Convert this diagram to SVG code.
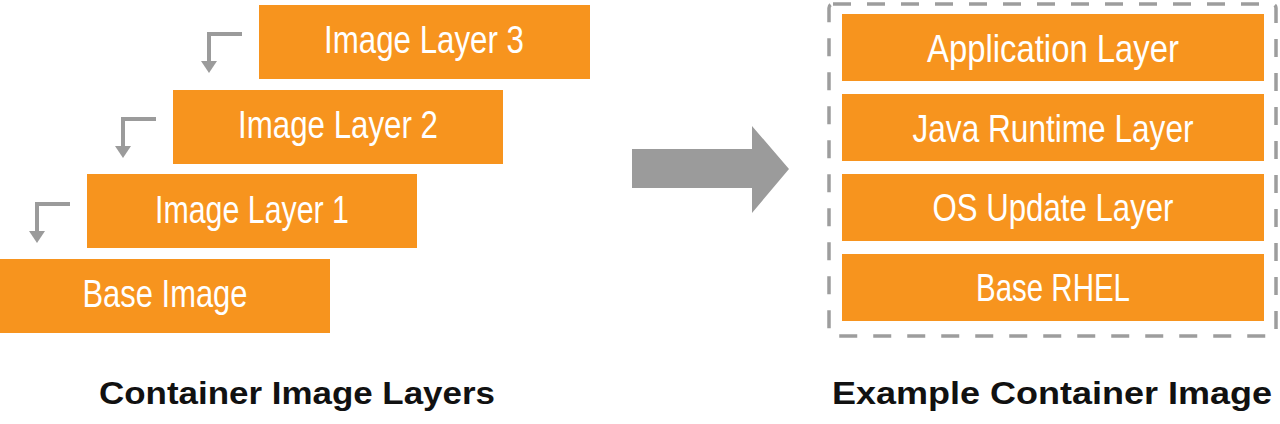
<svg xmlns="http://www.w3.org/2000/svg" width="1280" height="424" viewBox="0 0 1280 424">
<style>
.box{fill:#F7941E;}
.lbl{fill:#FFFFFF;font-family:"Liberation Sans",Arial,sans-serif;font-size:39px;text-anchor:middle;}
.ttl{fill:#111111;font-family:"Liberation Sans",Arial,sans-serif;font-size:31px;font-weight:bold;text-anchor:middle;}
.con{fill:none;stroke:#9B9B9B;stroke-width:4;}
</style>
<defs>
<marker id="ah" markerUnits="userSpaceOnUse" viewBox="0 -8 12 16" markerWidth="12" markerHeight="16" refX="0" refY="0" orient="auto">
<path d="M0,-8 L12,0 L0,8 Z" fill="#9B9B9B"/>
</marker>
</defs>
<rect width="1280" height="424" fill="#FFFFFF"/>
<g id="connectors">
<polyline class="con" points="242,34 209,34 209,61" marker-end="url(#ah)"/>
<polyline class="con" points="156,119 123,119 123,146" marker-end="url(#ah)"/>
<polyline class="con" points="70,204 37,204 37,231" marker-end="url(#ah)"/>
<polygon id="big-arrow" points="632,149 752,149 752,126 789,169 752,213 752,188 632,188" fill="#9B9B9B"/>
</g>
<g id="layer3"><rect class="box" x="259" y="5" width="331" height="74"/><text class="lbl" x="424" y="53" textLength="200" lengthAdjust="spacingAndGlyphs">Image Layer 3</text></g>
<g id="layer2"><rect class="box" x="173" y="90" width="330" height="74"/><text class="lbl" x="338" y="138" textLength="200" lengthAdjust="spacingAndGlyphs">Image Layer 2</text></g>
<g id="layer1"><rect class="box" x="87" y="174" width="330" height="74"/><text class="lbl" x="252" y="223" textLength="194" lengthAdjust="spacingAndGlyphs">Image Layer 1</text></g>
<g id="base-image"><rect class="box" x="0" y="259" width="330" height="74"/><text class="lbl" x="165" y="307" textLength="165" lengthAdjust="spacingAndGlyphs">Base Image</text></g>
<g id="example-frame"><rect x="829" y="4" width="447" height="332" rx="4" fill="none" stroke="#9D9D9D" stroke-width="3.5" stroke-dasharray="18 16"/></g>
<g id="app-layer"><rect class="box" x="842" y="14" width="422" height="67"/><text class="lbl" x="1053" y="62" textLength="252" lengthAdjust="spacingAndGlyphs">Application Layer</text></g>
<g id="java-layer"><rect class="box" x="842" y="94" width="422" height="67"/><text class="lbl" x="1053" y="142" textLength="281" lengthAdjust="spacingAndGlyphs">Java Runtime Layer</text></g>
<g id="os-layer"><rect class="box" x="842" y="174" width="422" height="67"/><text class="lbl" x="1053" y="221" textLength="241" lengthAdjust="spacingAndGlyphs">OS Update Layer</text></g>
<g id="rhel-layer"><rect class="box" x="842" y="254" width="422" height="67"/><text class="lbl" x="1053" y="301" textLength="154" lengthAdjust="spacingAndGlyphs">Base RHEL</text></g>
<g id="titles">
<text class="ttl" x="297" y="404" textLength="396" lengthAdjust="spacingAndGlyphs">Container Image Layers</text>
<text class="ttl" x="1052" y="404" textLength="440" lengthAdjust="spacingAndGlyphs">Example Container Image</text>
</g>
</svg>
